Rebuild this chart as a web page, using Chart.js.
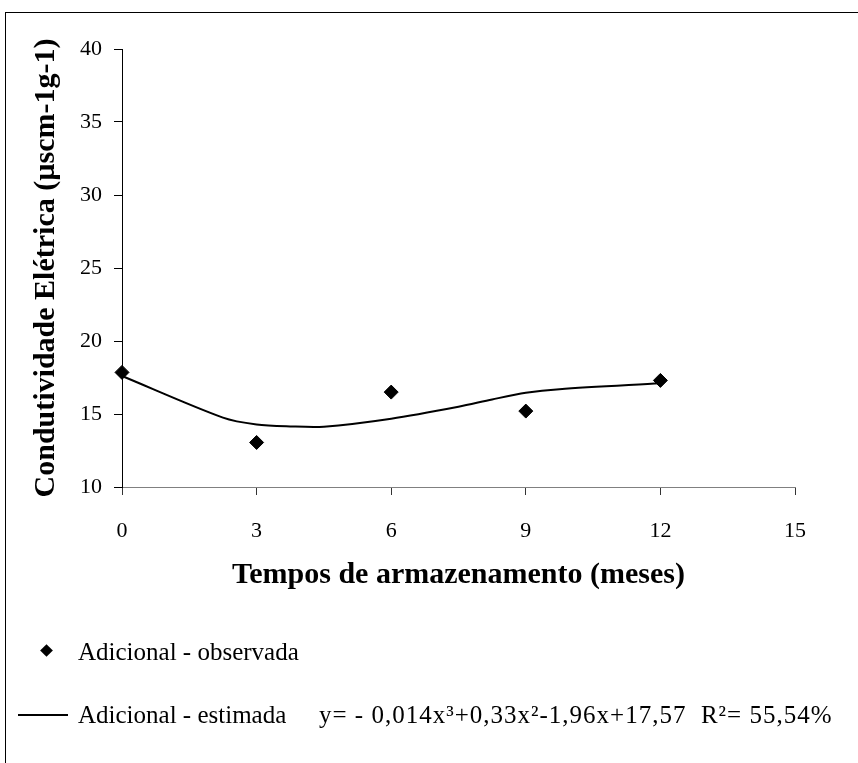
<!DOCTYPE html>
<html lang="pt">
<head>
<meta charset="UTF-8">
<title>Condutividade Elétrica</title>
<script src="https://cdn.jsdelivr.net/npm/chart.js@4.4.0/dist/chart.umd.min.js"></script>
<style>
  body { margin: 0; width: 858px; height: 763px; overflow: hidden; background: #fff; position: relative; }
  #frame { position: absolute; left: 5px; top: 12px; width: 1000px; height: 1000px; border: 1px solid #000; }
  #chart { position: absolute; left: 0; top: 0; }
  .leg { position: absolute; font-family: "Liberation Serif", serif; font-size: 25px; color: #000; line-height: 1; white-space: pre; }
  .dia { position: absolute; width: 9px; height: 9px; background: #000; transform: rotate(45deg); }
  .seg { position: absolute; height: 2px; background: #000; }
</style>
</head>
<body>
<div id="frame"></div>
<canvas id="chart" width="858" height="763"></canvas>

<!-- legend -->
<div class="dia" style="left:42px; top:646px;"></div>
<div class="leg" style="left:78px; top:639px;">Adicional - observada</div>
<div class="seg" style="left:18px; top:714px; width:50px;"></div>
<div class="leg" style="left:78px; top:702px;">Adicional - estimada</div>
<div class="leg" style="left:319px; top:702px; letter-spacing:1px;">y= - 0,014x³+0,33x²-1,96x+17,57  R²= 55,54%</div>

<script>
  // observed means
  const obsX = [0, 3, 6, 9, 12];
  const obsY = [17.85, 13.05, 16.5, 15.2, 17.3];

  // fitted curve
  const fitX = [0, 2.25, 3, 3.75, 4.5, 6, 7.5, 8.25, 9, 9.75, 12];
  const fitY = [17.6, 14.75, 14.28, 14.15, 14.13, 14.68, 15.5, 16.0, 16.45, 16.7, 17.1];

  const xTicks = [0, 3, 6, 9, 12, 15];
  const yTicks = [10, 15, 20, 25, 30, 35, 40];

  const serif = "'Liberation Serif', 'Times New Roman', serif";

  new Chart(document.getElementById('chart'), {
    type: 'scatter',
    data: {
      datasets: [{
        label: 'Adicional - observada',
        data: obsX.map((x, i) => ({x, y: obsY[i]})),
        pointStyle: 'rectRot',
        pointRadius: 7,
        backgroundColor: '#000',
        borderColor: '#000',
        borderWidth: 1,
        clip: false
      }, {
        label: 'Adicional - estimada',
        data: fitX.map((x, i) => ({x, y: fitY[i]})),
        showLine: true,
        tension: 0.3,
        borderColor: '#000',
        borderWidth: 2,
        pointRadius: 0,
        clip: false
      }]
    },
    options: {
      responsive: false,
      animation: false,
      layout: { padding: { top: 49, right: 63, bottom: 170, left: 0 } },
      plugins: { legend: { display: false }, tooltip: { enabled: false } },
      scales: {
        x: {
          type: 'linear',
          min: 0, max: 15,
          afterBuildTicks: s => { s.ticks = xTicks.map(v => ({value: v})); },
          afterFit: s => { s.height = 106; },
          ticks: { color: '#000', font: { family: serif, size: 22 }, padding: 23, maxRotation: 0 },
          grid: { drawOnChartArea: false, drawTicks: true, tickLength: 8, color: '#333' },
          border: { color: '#808080', width: 1 },
          title: {
            display: true,
            text: 'Tempos de armazenamento (meses)',
            color: '#000',
            font: { family: serif, size: 30, weight: 'bold' },
            padding: { top: 0, bottom: 0 }
          }
        },
        y: {
          min: 10, max: 40,
          afterBuildTicks: s => { s.ticks = yTicks.map(v => ({value: v})); },
          afterFit: s => { s.width = 122; },
          ticks: { color: '#000', font: { family: serif, size: 22 }, padding: 12 },
          grid: { drawOnChartArea: false, drawTicks: true, tickLength: 8, color: '#000' },
          border: { color: '#000', width: 1 },
          title: {
            display: true,
            text: 'Condutividade Elétrica (µscm-1g-1)',
            color: '#000',
            font: { family: serif, size: 30, weight: 'bold' },
            padding: { top: 28, bottom: 0 }
          }
        }
      }
    }
  });
</script>
</body>
</html>
